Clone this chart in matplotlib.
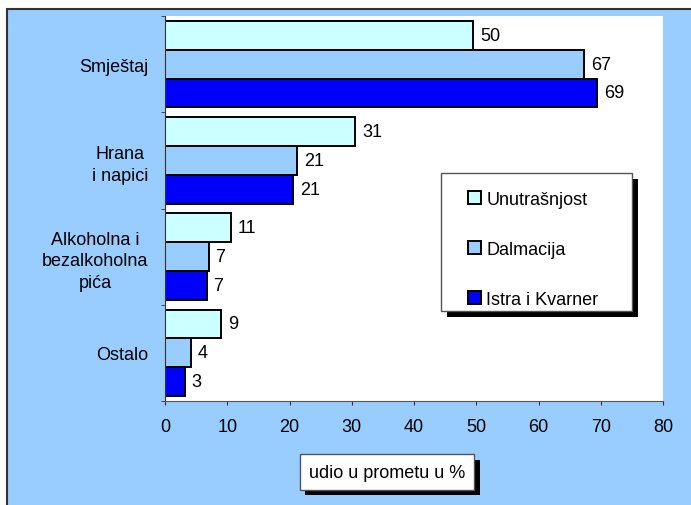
import matplotlib
matplotlib.use("Agg")
import matplotlib.pyplot as plt
import matplotlib.patheffects as pe
from matplotlib.patches import Rectangle, Patch
import numpy as np

plt.rcParams['font.family'] = ['Liberation Sans', 'DejaVu Sans']

# data
categories = ['Smještaj', 'Hrana\ni napici', 'Alkoholna i\nbezalkoholna\npića', 'Ostalo']
series = ['Unutrašnjost', 'Dalmacija', 'Istra i Kvarner']
unutrasnjost = [49.5, 30.6, 10.6, 9.0]
dalmacija = [67.3, 21.2, 7.0, 4.2]
istra = [69.4, 20.6, 6.7, 3.2]
colors = ['#CCFFFF', '#99CCFF', '#0000FF']

W, H = 691, 506
FS = 13
fig = plt.figure(figsize=(W / 100, H / 100), dpi=100, facecolor='white')


def fx(px):
    return px / W


def fy(py):
    return 1 - py / H


# outer chart area
fig.patches.append(Rectangle((fx(7), -0.2), 1.5, fy(9.5) + 0.2, transform=fig.transFigure,
                             facecolor='#99CCFF', edgecolor='#333333', linewidth=1.5, zorder=-1))

ax = fig.add_axes([fx(165), fy(402), fx(663 - 165), (402 - 17) / H])
ax.set_facecolor('white')

y = np.arange(len(categories))
h = 0.3
for k, vals in enumerate([unutrasnjost, dalmacija, istra]):
    pos = y + (k - 1) * h
    ax.barh(pos, vals, height=h, color=colors[k], edgecolor='black', linewidth=1.4, zorder=2)
    for p, v in zip(pos, vals):
        ax.text(v + 1.1, p, '%.0f' % v, va='center', ha='left', fontsize=FS, zorder=3)

ax.set_xlim(0, 80)
ax.set_ylim(3.5, -0.5)
ax.set_xticks(np.arange(0, 81, 10))
ax.set_yticks(y)
ax.set_yticklabels(categories, multialignment='center', linespacing=1.35)
ax.set_yticks(np.arange(-0.5, 4, 1), minor=True)
ax.tick_params(axis='y', which='major', length=0, pad=12, labelsize=FS)
ax.tick_params(axis='y', which='minor', length=3, direction='out', color='#333333')
ax.tick_params(axis='x', length=3, direction='out', pad=9, labelsize=FS, color='#333333')
for s in ['top', 'right']:
    ax.spines[s].set_visible(False)
ax.spines['left'].set_color('#333333')
ax.spines['bottom'].set_color('#555555')

# legend frame with shadow
shadow = [pe.SimplePatchShadow(offset=(4, -4), shadow_rgbFace='black', alpha=1), pe.Normal()]
frame = Rectangle((fx(441), fy(312)), fx(632 - 441), (312 - 174) / H, transform=fig.transFigure,
                  facecolor='white', edgecolor='#555555', linewidth=1, zorder=5)
frame.set_path_effects(shadow)
fig.patches.append(frame)

handles = [Patch(facecolor=c, edgecolor='black', linewidth=1.4) for c in colors]
leg = fig.legend(handles, series, loc='upper left', bbox_to_anchor=(fx(468), fy(192)),
                 frameon=False, fontsize=FS, borderpad=0, borderaxespad=0,
                 handlelength=0.72, handleheight=0.75, handletextpad=0.3, labelspacing=1.82)
leg.set_zorder(6)

# axis title box
t = fig.text(fx(387), fy(473), 'udio u prometu u %', ha='center', va='center', fontsize=FS,
             bbox=dict(boxstyle='square,pad=0.5', facecolor='white', edgecolor='#555555', linewidth=1))
t.get_bbox_patch().set_path_effects(shadow)

fig.savefig('out.png', dpi=100, facecolor=fig.get_facecolor())
